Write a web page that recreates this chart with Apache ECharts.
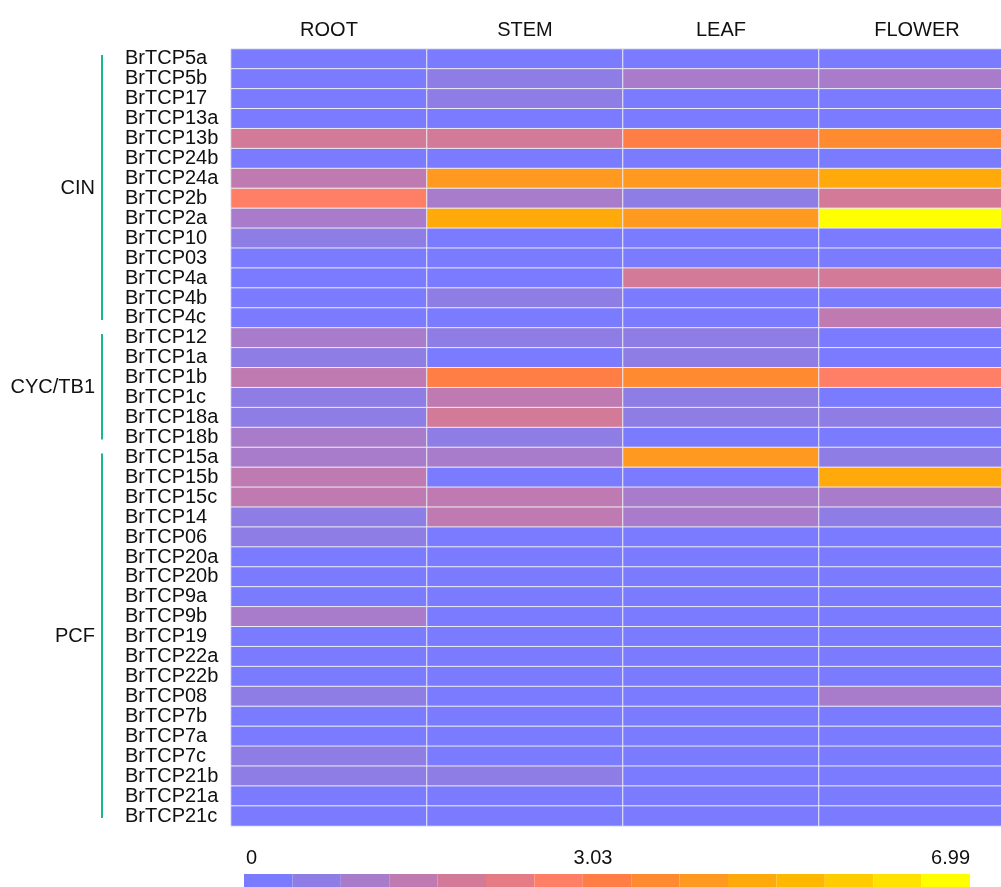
<!DOCTYPE html>
<html><head><meta charset="utf-8">
<script src="https://cdn.jsdelivr.net/npm/echarts@6/dist/echarts.min.js"></script>
<style>html,body{margin:0;padding:0;background:#fff}#c{width:1001px;height:887px}</style>
</head><body><div id="c"></div>
<script>
const tissues = ['ROOT', 'STEM', 'LEAF', 'FLOWER'];
const genes = ['BrTCP5a','BrTCP5b','BrTCP17','BrTCP13a','BrTCP13b','BrTCP24b','BrTCP24a','BrTCP2b','BrTCP2a','BrTCP10','BrTCP03','BrTCP4a','BrTCP4b','BrTCP4c',
  'BrTCP12','BrTCP1a','BrTCP1b','BrTCP1c','BrTCP18a','BrTCP18b',
  'BrTCP15a','BrTCP15b','BrTCP15c','BrTCP14','BrTCP06','BrTCP20a','BrTCP20b','BrTCP9a','BrTCP9b','BrTCP19','BrTCP22a','BrTCP22b','BrTCP08','BrTCP7b','BrTCP7a','BrTCP7c','BrTCP21b','BrTCP21a','BrTCP21c'];
const rootValues   = [0.12,0.08,0.15,0.05,1.85,0.10,1.42,2.62,1.02,0.62,0.18,0.06,0.14,0.09,1.05,0.65,1.45,0.70,0.66,1.00,1.10,1.48,1.40,0.60,0.64,0.10,0.12,0.07,1.08,0.15,0.05,0.08,0.78,0.20,0.11,0.62,0.68,0.10,0.06];
const stemValues   = [0.10,0.62,0.58,0.12,1.80,0.08,4.10,1.04,4.65,0.15,0.10,0.20,0.60,0.12,0.70,0.30,3.05,1.45,1.82,0.62,1.00,0.16,1.30,1.35,0.10,0.05,0.08,0.10,0.12,0.06,0.09,0.10,0.25,0.10,0.05,0.18,0.60,0.10,0.07];
const leafValues   = [0.05,1.05,0.20,0.10,3.10,0.12,4.05,0.65,4.15,0.10,0.08,1.85,0.20,0.15,0.68,0.64,3.50,0.60,0.66,0.30,4.12,0.10,1.10,1.02,0.12,0.08,0.10,0.05,0.20,0.10,0.06,0.12,0.18,0.10,0.05,0.10,0.20,0.08,0.10];
const flowerValues = [0.08,1.00,0.15,0.10,3.60,0.10,4.70,1.80,6.99,0.20,0.12,1.78,0.10,1.42,0.30,0.15,2.65,0.25,0.62,0.12,0.70,4.62,1.06,0.64,0.10,0.05,0.12,0.10,0.08,0.10,0.06,0.12,1.00,0.10,0.08,0.12,0.20,0.10,0.05];
const groups = [['CIN','BrTCP5a','BrTCP4c'],['CYC/TB1','BrTCP12','BrTCP18b'],['PCF','BrTCP15a','BrTCP21c']];
const scaleMin = 0, scaleMid = 3.03, scaleMax = 6.99;
const scaleLabels = ['0', '3.03', '6.99'];
const pieceColors = ['#7b7bff','#8e7de5','#a87bcb','#bf7bb1','#d27a98','#e57c85','#ff7f66','#ff7e45','#ff8a30','#ff991f','#ffa90a','#ffb800','#ffcc00','#ffe200','#ffff00'];

const FONT = '"Liberation Sans", Arial, sans-serif';
const valueCols = [rootValues, stemValues, leafValues, flowerValues];
const data = [];
valueCols.forEach((col, x) => col.forEach((v, y) => data.push([x, y, v])));

function valueAt(f) {
  return f <= 0.5 ? scaleMin + f * 2 * (scaleMid - scaleMin) : scaleMid + (f - 0.5) * 2 * (scaleMax - scaleMid);
}
const n = pieceColors.length;
const pieces = pieceColors.map((c, i) => {
  const p = { gte: valueAt(i / n), color: c };
  if (i < n - 1) p.lt = valueAt((i + 1) / n); else p.lte = scaleMax + 0.001;
  return p;
});

const barLeft = 244, barWidth = 726;
const chart = echarts.init(document.getElementById('c'));
chart.setOption({
  backgroundColor: '#ffffff',
  animation: false,
  textStyle: { fontFamily: FONT },
  grid: { left: 231, top: 49, width: 784, height: 777, containLabel: false, outerBoundsMode: 'none' },
  xAxis: {
    type: 'category', position: 'top', data: tissues,
    axisLine: { show: false }, axisTick: { show: false }, splitLine: { show: false },
    axisLabel: { fontSize: 20, color: '#111', margin: 9, fontFamily: FONT }
  },
  yAxis: {
    type: 'category', inverse: true, data: genes,
    axisLine: { show: false }, axisTick: { show: false }, splitLine: { show: false },
    axisLabel: { fontSize: 20, color: '#111', align: 'left', margin: 106, fontFamily: FONT, interval: 0 }
  },
  visualMap: {
    type: 'piecewise', dimension: 2, pieces: pieces,
    orient: 'horizontal', left: barLeft, top: 874, padding: 0,
    itemWidth: barWidth / n, itemHeight: 20, itemGap: 0, itemSymbol: 'rect',
    showLabel: false, selectedMode: false, hoverLink: false, text: null
  },
  series: [{
    type: 'heatmap', data: data,
    itemStyle: { borderColor: '#ececf4', borderWidth: 1 },
    emphasis: { disabled: true }
  }],
  graphic: [
    { type: 'text', left: barLeft + 2, top: 848, style: { text: scaleLabels[0], font: '20px ' + FONT, fill: '#111' } },
    { type: 'text', x: 593, y: 858, style: { text: scaleLabels[1], font: '20px ' + FONT, fill: '#111', textAlign: 'center', textVerticalAlign: 'middle' } },
    { type: 'text', x: barLeft + barWidth, y: 858, style: { text: scaleLabels[2], font: '20px ' + FONT, fill: '#111', textAlign: 'right', textVerticalAlign: 'middle' } }
  ]
});

const extra = [];
groups.forEach(([name, first, last]) => {
  const y1 = chart.convertToPixel({ yAxisIndex: 0 }, first) - 4;
  const y2 = chart.convertToPixel({ yAxisIndex: 0 }, last) + 2;
  extra.push({ type: 'line', shape: { x1: 102, y1: y1, x2: 102, y2: y2 }, style: { stroke: '#17b88e', lineWidth: 2 } });
  extra.push({ type: 'text', x: 95, y: (y1 + y2) / 2 + 1, style: { text: name, font: '20px ' + FONT, fill: '#111', textAlign: 'right', textVerticalAlign: 'middle' } });
});
chart.setOption({ graphic: extra.map((e, i) => Object.assign({ id: 'grp' + i }, e)) });
</script></body></html>
